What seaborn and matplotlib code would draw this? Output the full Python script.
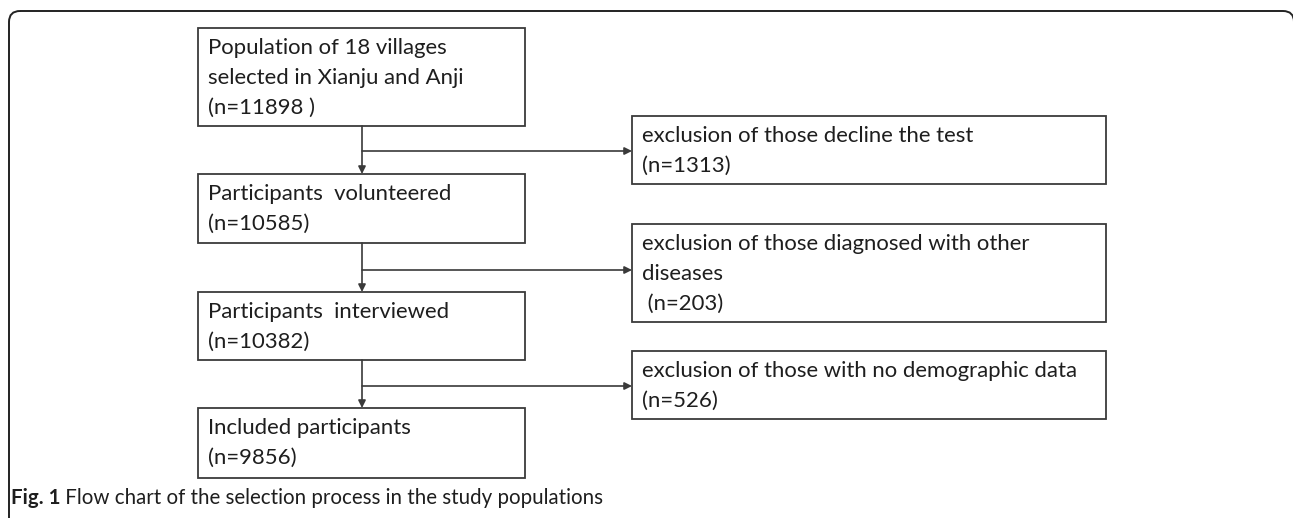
import matplotlib.pyplot as plt
import seaborn as sns
from matplotlib.patches import Rectangle, FancyBboxPatch

# flow steps (main column)
steps = ["Population of 18 villages\nselected in Xianju and Anji",
         "Participants  volunteered",
         "Participants  interviewed",
         "Included participants"]
step_counts = ["(n=11898 )", "(n=10585)", "(n=10382)", "(n=9856)"]

# exclusions (right column)
exclusions = ["exclusion of those decline the test",
              "exclusion of those diagnosed with other\ndiseases",
              "exclusion of those with no demographic data"]
exclusion_counts = ["(n=1313)", " (n=203)", "(n=526)"]

caption_bold = "Fig. 1"
caption_text = " Flow chart of the selection process in the study populations"

# layout (pixels, y downwards)
W, H = 1293, 518
main_x = (198, 525)
main_y = [(28, 126), (174, 243), (292, 360), (408, 478)]
excl_x = (632, 1106)
excl_y = [(116, 184), (224, 322), (351, 419)]
branch_y = [151, 270, 386]
stem_x = 362
pitch = 30
edge = "#3a3a3a"
ink = "#1e1e1e"

sns.set_theme(style="white")
plt.rcParams["font.family"] = ["Lato", "DejaVu Sans"]

fig = plt.figure(figsize=(W / 100, H / 100), dpi=100)
ax = fig.add_axes([0, 0, 1, 1])
ax.set_xlim(0, W)
ax.set_ylim(H, 0)
ax.axis("off")

# outer rounded frame, right edge sits just outside the crop
frame = FancyBboxPatch((9, 11), 1285, 700, boxstyle="round,pad=0,rounding_size=11",
                       fill=False, ec="#222222", lw=1.4, clip_on=True)
ax.add_patch(frame)


def box(x0, x1, y0, y1, lines):
    ax.add_patch(Rectangle((x0, y0), x1 - x0, y1 - y0, fill=False, ec=edge, lw=1.3))
    for i, ln in enumerate(lines):
        ax.text(x0 + 10, y0 + 20 + i * pitch, ln, fontsize=15.9, color=ink,
                ha="left", va="center")


for i, (label, n) in enumerate(zip(steps, step_counts)):
    box(main_x[0], main_x[1], main_y[i][0], main_y[i][1], label.split("\n") + [n])

for i, (label, n) in enumerate(zip(exclusions, exclusion_counts)):
    box(excl_x[0], excl_x[1], excl_y[i][0], excl_y[i][1], label.split("\n") + [n])

arrow = dict(arrowstyle="-|>", color=edge, lw=1.2, mutation_scale=11,
             shrinkA=0, shrinkB=0)
for i in range(len(steps) - 1):
    ax.annotate("", xy=(stem_x, main_y[i + 1][0]), xytext=(stem_x, main_y[i][1]),
                arrowprops=arrow)
    ax.annotate("", xy=(excl_x[0], branch_y[i]), xytext=(stem_x, branch_y[i]),
                arrowprops=arrow)

t = ax.text(11, 498, caption_bold, fontsize=14.8, fontweight="bold", color=ink,
            ha="left", va="center")
fig.canvas.draw()
bb = t.get_window_extent()
x_next = ax.transData.inverted().transform((bb.x1, bb.y0))[0]
ax.text(x_next, 498, caption_text, fontsize=14.8, color=ink, ha="left", va="center")

fig.savefig("out.png", dpi=100)
